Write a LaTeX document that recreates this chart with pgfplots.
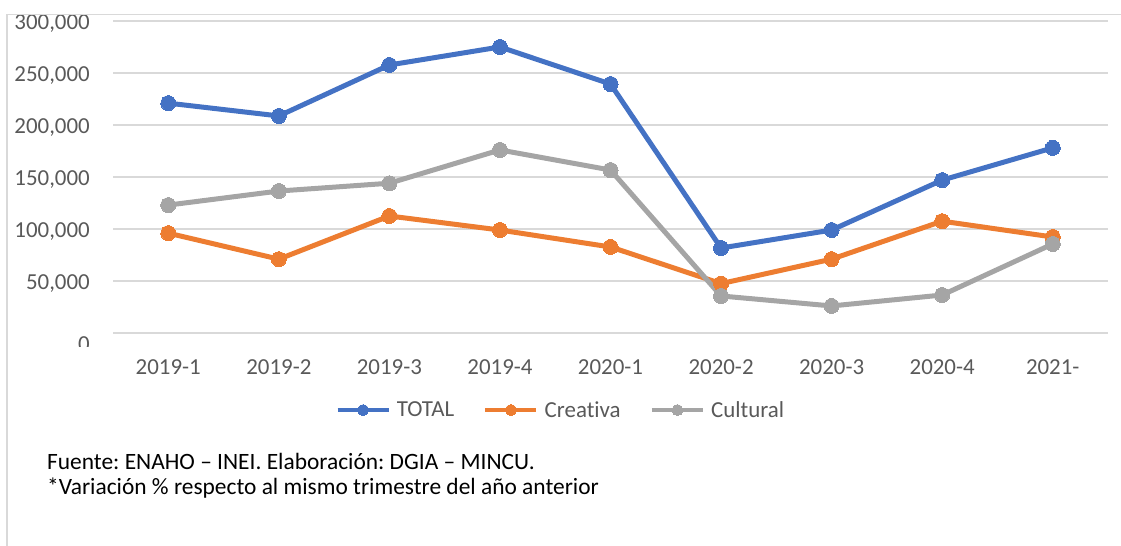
\documentclass[border=0pt]{standalone}
\usepackage{pgfplots}
\pgfplotsset{compat=1.18}
\usepackage{fontspec}
\setmainfont{Carlito}[Ligatures=NoCommon]
\definecolor{cblue}{HTML}{4472C4}
\definecolor{corange}{HTML}{ED7D31}
\definecolor{cgray}{HTML}{A5A5A5}
\definecolor{gridc}{HTML}{D9D9D9}
\definecolor{labc}{HTML}{595959}
\frenchspacing
\begin{document}
\begin{tikzpicture}[x=1bp,y=1bp]
\useasboundingbox (0,0) rectangle (1121,546);
\begin{axis}[
  at={(113bp,213bp)}, anchor=south west,
  width=995bp, height=312bp, scale only axis,
  xmin=-0.5, xmax=8.5, ymin=0, ymax=300000,
  scaled y ticks=false,
  xtick={0,...,8},
  xticklabels={2019-1,2019-2,2019-3,2019-4,2020-1,2020-2,2020-3,2020-4,2021-},
  ytick={0,50000,100000,150000,200000,250000,300000},
  yticklabels={\raisebox{-10bp}{0},{50,000},{100,000},{150,000},{200,000},{250,000},{300,000}},
  axis line style={draw=none},
  major tick length=0pt,
  ymajorgrids, grid style={gridc, line width=1.5bp},
  tick label style={font=\fontsize{23}{27}\selectfont, text=labc, inner sep=0pt},
  yticklabel style={anchor=base east, xshift=-23bp, yshift=-9bp},
  xticklabel style={anchor=base, yshift=-42bp},
  legend columns=3,
  legend style={at={(rel axis cs:0.449,-0.247)}, anchor=center, draw=none,
    font=\fontsize{23}{27}\selectfont, text=labc,
    nodes={inner sep=0pt},
    /tikz/every odd column/.append style={column sep=6bp},
    /tikz/every even column/.append style={column sep=29bp}},
  legend image code/.code={
    \draw[#1, mark=none, line width=4.5bp] (0bp,0bp) -- (51bp,0bp);
    \draw[#1, mark size=5.5bp] plot coordinates {(25.5bp,0bp)};
  },
  every axis plot/.append style={line width=5bp, mark=*, mark size=7.5bp},
]
\addplot[cblue, mark options={fill=cblue, draw=cblue, line width=0pt}] coordinates {
 (0,221000) (1,208700) (2,257700) (3,275000) (4,239400) (5,81700) (6,99000) (7,147000) (8,178000)};
\addlegendentry{TOTAL}
\addplot[corange, mark options={fill=corange, draw=corange, line width=0pt}] coordinates {
 (0,96000) (1,71000) (2,112500) (3,99000) (4,82700) (5,47500) (6,71000) (7,107500) (8,92300)};
\addlegendentry{Creativa}
\addplot[cgray, mark options={fill=cgray, draw=cgray, line width=0pt}] coordinates {
 (0,123000) (1,136500) (2,144000) (3,176000) (4,156700) (5,35600) (6,26000) (7,36500) (8,85600)};
\addlegendentry{Cultural}
\end{axis}
\fill[white] (60,190) rectangle (100,199);
\fill[white] (0,531) rectangle (1121,546);
\draw[gridc, line width=1.5bp] (7,0) -- (7,531.5) -- (1121,531.5);
\node[anchor=base west, inner sep=0pt, font=\fontsize{23.5}{25}\selectfont] at (47,76) {Fuente: ENAHO – INEI. Elaboración: DGIA – MINCU.};
\node[anchor=base west, inner sep=0pt, font=\fontsize{23.5}{25}\selectfont] at (47,51) {*Variación \% respecto al mismo trimestre del año anterior};
\end{tikzpicture}
\end{document}
